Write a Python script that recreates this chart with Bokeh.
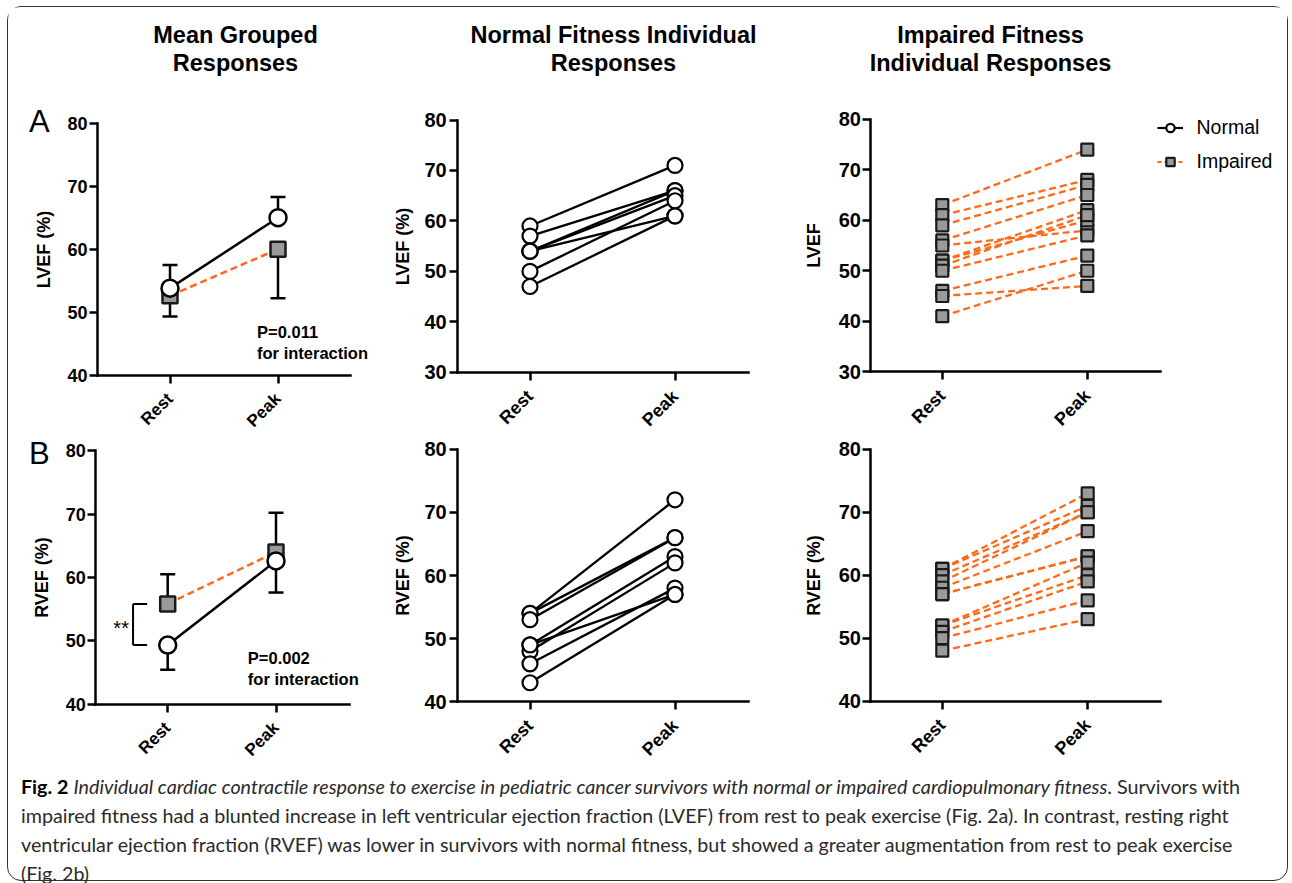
import numpy as np
from bokeh.plotting import figure
from bokeh.models import (Range1d, FixedTicker, Label, Legend, LegendItem, Div,
                          ColumnDataSource)
from bokeh.layouts import column, row
from bokeh.embed import file_html
from bokeh.resources import INLINE
from bokeh.core.properties import value

# ---------------- data ----------------
conditions = ["Rest", "Peak"]
x_pos = [0, 1]

# Mean grouped responses (mean, one-sided SD bar)
lvef_norm_mean = [53.8, 65.0]
lvef_norm_sd = [3.7, 3.3]      # drawn upward
lvef_imp_mean = [52.6, 60.0]
lvef_imp_sd = [3.3, 7.8]       # drawn downward
rvef_norm_mean = [49.3, 62.6]
rvef_norm_sd = [3.9, 5.0]      # drawn downward
rvef_imp_mean = [55.8, 64.0]
rvef_imp_sd = [4.7, 6.2]       # drawn upward

# Individual responses
lvef_norm_rest = [59, 57, 54, 54, 54, 50, 47]
lvef_norm_peak = [71, 66, 66, 65, 61, 64, 61]
rvef_norm_rest = [54, 54, 53, 49, 48, 49, 46, 43]
rvef_norm_peak = [72, 66, 66, 63, 62, 57, 58, 57]
lvef_imp_rest = [63, 61, 59, 56, 55, 52, 52, 51, 50, 46, 45, 41]
lvef_imp_peak = [74, 68, 67, 65, 58, 62, 60, 61, 57, 53, 47, 50]
rvef_imp_rest = [61, 61, 60, 59, 58, 57, 57, 52, 52, 51, 50, 48]
rvef_imp_peak = [73, 71, 70, 70, 67, 63, 63, 62, 60, 59, 56, 53]

col_titles = [["Mean Grouped", "Responses"],
              ["Normal Fitness Individual", "Responses"],
              ["Impaired Fitness", "Individual Responses"]]
p_texts = [["P=0.011", "for interaction"], ["P=0.002", "for interaction"]]
legend_labels = ["Normal", "Impaired"]
panel_letters = ["A", "B"]

# ---------------- style ----------------
FONT = "Liberation Sans"
ORANGE = "#FF6A1A"
GRAY = "#9A9A9A"
DASH = "7 4"

# page geometry (px): canvas origins and sizes
ROW_Y0 = [99.5, 436.5]
ROW_H = [337, 330]
COL_X0 = [8.5, 390.5, 780.5]
COL_W = [382, 390, 507]


def panel(ri, ci, geom, ylims, yticks, ylabel, tick_size, xlab_size,
          y_lab_standoff, y_tick_standoff):
    """geom = (yaxis_px, rest_px, peak_px, xaxis_end_px, ytop_px, ybot_px) in page px."""
    x0, W = COL_X0[ci], COL_W[ci]
    y0, H = ROW_Y0[ri], ROW_H[ri]
    yax, rest, peak, xend, ytop, ybot = geom
    ymin, ymax = ylims
    sx = (peak - rest) / (x_pos[1] - x_pos[0])
    xs = x_pos[0] - (rest - x0) / sx
    xe = xs + W / sx
    sy = (ybot - ytop) / (ymax - ymin)
    ye = ymax + (ytop - y0) / sy
    ys = ymin - (y0 + H - ybot) / sy
    xb = (x_pos[0] + (yax - rest) / sx, x_pos[0] + (xend - rest) / sx)
    p = figure(width=W, height=H, x_range=Range1d(xs, xe), y_range=Range1d(ys, ye),
               output_backend="svg", toolbar_location=None, title=None,
               min_border_left=0, min_border_right=0, min_border_top=0,
               min_border_bottom=0)
    p.grid.visible = False
    p.outline_line_color = None
    p.background_fill_color = "white"
    p.border_fill_color = "white"
    xa = p.xaxis[0]
    ya = p.yaxis[0]
    for ax in (xa, ya):
        ax.axis_line_width = 2.5
        ax.axis_line_color = "black"
        ax.axis_line_cap = "square"
        ax.major_tick_line_width = 2.5
        ax.major_tick_line_color = "black"
        ax.major_tick_in = 0
        ax.major_tick_out = 8
        ax.minor_tick_line_color = None
        ax.major_label_text_font = FONT
        ax.major_label_text_font_style = "bold"
        ax.major_label_text_color = "black"
    ya.ticker = FixedTicker(ticks=yticks)
    ya.major_label_text_font_size = tick_size
    ya.major_label_standoff = y_tick_standoff
    ya.axis_label = ylabel
    ya.axis_label_text_font = FONT
    ya.axis_label_text_font_style = "bold"
    ya.axis_label_text_font_size = "18px"
    ya.axis_label_text_color = "black"
    ya.axis_label_standoff = y_lab_standoff
    ya.bounds = (ymin, ymax)
    ya.fixed_location = xb[0]
    xa.ticker = FixedTicker(ticks=x_pos)
    xa.major_label_overrides = {x: c for x, c in zip(x_pos, conditions)}
    xa.major_label_orientation = np.pi / 4
    xa.major_label_text_font_size = xlab_size
    xa.major_label_standoff = 13
    xa.bounds = xb
    xa.fixed_location = ymin
    return p


def mean_panel(ri, geom, nm, nsd, nsign, im, isd, isign, ylabel, ptxt, pxy,
               letter, letter_xy, bracket=False):
    p = panel(ri, 0, geom, (40, 80), [40, 50, 60, 70, 80], ylabel, "18px", "17px", 10, 2)
    n_end = [m + nsign * s for m, s in zip(nm, nsd)]
    i_end = [m + isign * s for m, s in zip(im, isd)]
    p.segment(x0=x_pos, y0=nm, x1=x_pos, y1=n_end, line_color="black", line_width=2.5)
    p.scatter(x_pos, n_end, marker="dash", size=15, line_color="black", line_width=2.5)
    p.segment(x0=x_pos, y0=im, x1=x_pos, y1=i_end, line_color="black", line_width=2.5)
    p.scatter(x_pos, i_end, marker="dash", size=15, line_color="black", line_width=2.5)
    p.line(x_pos, im, line_color=ORANGE, line_width=2.5, line_dash=DASH)
    p.line(x_pos, nm, line_color="black", line_width=2.5)
    p.scatter(x_pos, im, marker="square", size=15, fill_color=GRAY,
              line_color="#1a1a1a", line_width=2.5)
    p.scatter(x_pos, nm, marker="circle", size=17, fill_color="white",
              line_color="black", line_width=2.5)
    if bracket:
        bx = x_pos[0] - 0.32
        p.segment(x0=[bx, bx, bx], y0=[im[0], im[0], nm[0]],
                  x1=[bx, x_pos[0] - 0.19, x_pos[0] - 0.19], y1=[nm[0], im[0], nm[0]],
                  line_color="black", line_width=2)
        p.add_layout(Label(x=x_pos[0] - 0.43, y=(im[0] + nm[0]) / 2 - 0.6, text="**",
                           text_font=FONT, text_font_size="20px", text_align="center",
                           text_baseline="middle", text_color="black"))
    for i, t in enumerate(ptxt):
        p.add_layout(Label(x=pxy[0], y=pxy[1] - i * 3.3, text=t, text_font=FONT,
                           text_font_style="bold", text_font_size="16.5px",
                           text_baseline="middle", text_align="left",
                           text_color="black"))
    p.add_layout(Label(x=letter_xy[0], y=letter_xy[1], x_units="screen", y_units="screen",
                       text=letter, text_font=FONT, text_font_size="31px",
                       text_baseline="middle", text_align="left", text_color="black"))
    return p


def normal_panel(ri, geom, ylims, yticks, ylabel, rest, peak):
    p = panel(ri, 1, geom, ylims, yticks, ylabel, "20px", "18px", 8, 3)
    n = len(rest)
    src = ColumnDataSource(dict(x0=[x_pos[0]] * n, x1=[x_pos[1]] * n, y0=rest, y1=peak))
    p.segment("x0", "y0", "x1", "y1", source=src, line_color="black", line_width=2.3)
    p.scatter(x=[x_pos[0]] * n + [x_pos[1]] * n, y=list(rest) + list(peak),
              marker="circle", size=15, fill_color="white", line_color="black",
              line_width=2.2)
    return p


def impaired_panel(ri, geom, ylims, yticks, ylabel, rest, peak, legend_xy=None):
    p = panel(ri, 2, geom, ylims, yticks, ylabel, "20px", "18px", 12, 1)
    n = len(rest)
    src = ColumnDataSource(dict(x0=[x_pos[0]] * n, x1=[x_pos[1]] * n, y0=rest, y1=peak))
    p.segment("x0", "y0", "x1", "y1", source=src, line_color=ORANGE, line_width=2.3,
              line_dash=DASH)
    p.scatter(x=[x_pos[0]] * n + [x_pos[1]] * n, y=list(rest) + list(peak),
              marker="square", size=12, fill_color=GRAY, line_color="#1a1a1a",
              line_width=2.2)
    if legend_xy is not None:
        nan = [float("nan")]
        ln = p.line(x=nan, y=nan, line_color="black", line_width=2.2)
        cn = p.scatter(x=nan, y=nan, marker="circle", size=15, fill_color="white",
                       line_color="black", line_width=2.2)
        li = p.line(x=nan, y=nan, line_color=ORANGE, line_width=2.2, line_dash="4 3")
        si = p.scatter(x=nan, y=nan, marker="square", size=13, fill_color=GRAY,
                       line_color="#1a1a1a", line_width=2.2)
        lg = Legend(items=[LegendItem(label=legend_labels[0], renderers=[ln, cn]),
                           LegendItem(label=legend_labels[1], renderers=[li, si])],
                    location=legend_xy, orientation="vertical")
        lg.margin = 0
        lg.padding = 0
        lg.border_line_color = None
        lg.background_fill_color = None
        lg.glyph_width = 26
        lg.glyph_height = 21
        lg.label_height = 21
        lg.spacing = 11
        lg.label_standoff = 14
        lg.label_text_font = FONT
        lg.label_text_font_size = "19.5px"
        lg.label_text_color = "black"
        lg.label_text_baseline = "middle"
        p.add_layout(lg)
    return p


# ---------------- header ----------------
header = figure(width=1279, height=92, x_range=Range1d(0, 1279), y_range=Range1d(92, 0),
                output_backend="svg", toolbar_location=None, min_border=0,
                x_axis_location=None, y_axis_location=None)
header.grid.visible = False
header.outline_line_color = None
hx, hy, ht = [], [], []
for cx, lines in zip([227, 605, 982], col_titles):
    for j, t in enumerate(lines):
        hx.append(cx)
        hy.append(27 + 28 * j)
        ht.append(t)
header.text(x=hx, y=hy, text=ht, text_font=value(FONT), text_font_style="bold",
            text_font_size="23.5px", text_align="center", text_baseline="middle",
            text_color="black")

# ---------------- panels ----------------
fLA = mean_panel(0, (97.5, 170, 278, 350, 123.3, 375), lvef_norm_mean, lvef_norm_sd, 1,
                 lvef_imp_mean, lvef_imp_sd, -1, "LVEF (%)", p_texts[0], (0.806, 46.8),
                 panel_letters[0], (20.5, 315.5))
fMA = normal_panel(0, (457.7, 530, 675, 748, 120, 372.3), (30, 80),
                   [30, 40, 50, 60, 70, 80], "LVEF (%)", lvef_norm_rest, lvef_norm_peak)
fRA = impaired_panel(0, (870, 942.3, 1087.3, 1160, 119.3, 371.7), (30, 80),
                     [30, 40, 50, 60, 70, 80], "LVEF", lvef_imp_rest, lvef_imp_peak,
                     legend_xy=(376.5, 263))

fLB = mean_panel(1, (95.7, 167.7, 276, 349.3, 450.7, 704), rvef_norm_mean, rvef_norm_sd, -1,
                 rvef_imp_mean, rvef_imp_sd, 1, "RVEF (%)", p_texts[1], (0.74, 47.3),
                 panel_letters[1], (20.5, 313.5), bracket=True)
fMB = normal_panel(1, (457.7, 530, 675, 748, 449.3, 701.7), (40, 80),
                   [40, 50, 60, 70, 80], "RVEF (%)", rvef_norm_rest, rvef_norm_peak)
fRB = impaired_panel(1, (870, 942.3, 1087.7, 1160, 449.3, 701), (40, 80),
                     [40, 50, 60, 70, 80], "RVEF (%)", rvef_imp_rest, rvef_imp_peak)

# ---------------- caption ----------------
cap_html = (
    '<div style="font-family: Lato, \'Open Sans\', sans-serif; font-size: 19.7px; '
    'line-height: 29px; color: #2a2a2a; white-space: nowrap; padding-left: 13px; '
    'padding-top: 6px;">'
    '<b style="color:#000">Fig. 2</b> <i>Individual cardiac contractile response to exercise '
    'in pediatric cancer survivors with normal or impaired cardiopulmonary fitness</i>. '
    'Survivors with<br>'
    'impaired fitness had a blunted increase in left ventricular ejection fraction (LVEF) '
    'from rest to peak exercise (Fig. 2a). In contrast, resting right<br>'
    'ventricular ejection fraction (RVEF) was lower in survivors with normal fitness, but '
    'showed a greater augmentation from rest to peak exercise<br>'
    '(Fig. 2b)</div>'
)
caption = Div(text=cap_html, width=1279, height=114, margin=0)

layout = column(header, row(fLA, fMA, fRA), row(fLB, fMB, fRB), caption,
                styles={"border": "1.5px solid #333", "border-radius": "14px",
                        "margin": "6px 0 0 7px"})

open("out.html", "w").write(file_html(layout, INLINE))
